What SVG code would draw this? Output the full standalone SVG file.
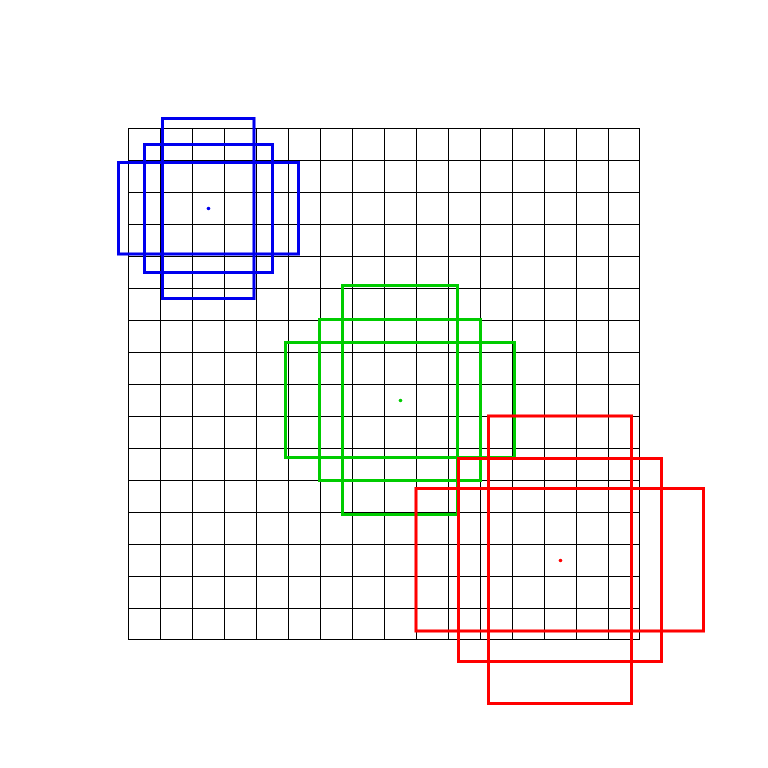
<svg xmlns="http://www.w3.org/2000/svg" width="768" height="768" viewBox="0 0 768 768">
<style>
.grid line{stroke:#000;stroke-width:1}
.box{fill:none;stroke-width:3}
.b{stroke:#0000ee}
.g{stroke:#00cc00}
.r{stroke:#ff0000}
</style>
<rect width="768" height="768" fill="#fff"/>
<g class="grid" id="grid">
<line x1="128.5" y1="128" x2="128.5" y2="640"/>
<line x1="160.5" y1="128" x2="160.5" y2="640"/>
<line x1="192.5" y1="128" x2="192.5" y2="640"/>
<line x1="224.5" y1="128" x2="224.5" y2="640"/>
<line x1="256.5" y1="128" x2="256.5" y2="640"/>
<line x1="288.5" y1="128" x2="288.5" y2="640"/>
<line x1="320.5" y1="128" x2="320.5" y2="640"/>
<line x1="352.5" y1="128" x2="352.5" y2="640"/>
<line x1="384.5" y1="128" x2="384.5" y2="640"/>
<line x1="416.5" y1="128" x2="416.5" y2="640"/>
<line x1="448.5" y1="128" x2="448.5" y2="640"/>
<line x1="480.5" y1="128" x2="480.5" y2="640"/>
<line x1="512.5" y1="128" x2="512.5" y2="640"/>
<line x1="544.5" y1="128" x2="544.5" y2="640"/>
<line x1="576.5" y1="128" x2="576.5" y2="640"/>
<line x1="608.5" y1="128" x2="608.5" y2="640"/>
<line x1="639.5" y1="128" x2="639.5" y2="640"/>
<line x1="128" y1="128.5" x2="640" y2="128.5"/>
<line x1="128" y1="160.5" x2="640" y2="160.5"/>
<line x1="128" y1="192.5" x2="640" y2="192.5"/>
<line x1="128" y1="224.5" x2="640" y2="224.5"/>
<line x1="128" y1="256.5" x2="640" y2="256.5"/>
<line x1="128" y1="288.5" x2="640" y2="288.5"/>
<line x1="128" y1="320.5" x2="640" y2="320.5"/>
<line x1="128" y1="352.5" x2="640" y2="352.5"/>
<line x1="128" y1="384.5" x2="640" y2="384.5"/>
<line x1="128" y1="416.5" x2="640" y2="416.5"/>
<line x1="128" y1="448.5" x2="640" y2="448.5"/>
<line x1="128" y1="480.5" x2="640" y2="480.5"/>
<line x1="128" y1="512.5" x2="640" y2="512.5"/>
<line x1="128" y1="544.5" x2="640" y2="544.5"/>
<line x1="128" y1="576.5" x2="640" y2="576.5"/>
<line x1="128" y1="608.5" x2="640" y2="608.5"/>
<line x1="128" y1="639.5" x2="640" y2="639.5"/>
</g>
<g id="blue">
<rect class="box b" x="162.5" y="118.5" width="91.5" height="180"/>
<rect class="box b" x="144.5" y="144.5" width="128" height="128"/>
<rect class="box b" x="118.5" y="162.5" width="180" height="91.5"/>
<circle cx="208.5" cy="208.5" r="1.8" fill="#0000ee"/>
</g>
<g id="green">
<rect class="box g" x="342.5" y="285.5" width="115" height="229"/>
<rect class="box g" x="319.5" y="319.5" width="161" height="161"/>
<rect class="box g" x="285.5" y="342.5" width="229" height="115"/>
<circle cx="400.5" cy="400.5" r="1.8" fill="#00cc00"/>
</g>
<g id="red">
<rect class="box r" x="488.5" y="416" width="143" height="287.5"/>
<rect class="box r" x="458.5" y="458.5" width="203" height="203"/>
<rect class="box r" x="416" y="488.5" width="287.5" height="142.5"/>
<circle cx="560.5" cy="560.5" r="1.8" fill="#ff0000"/>
</g>
</svg>
